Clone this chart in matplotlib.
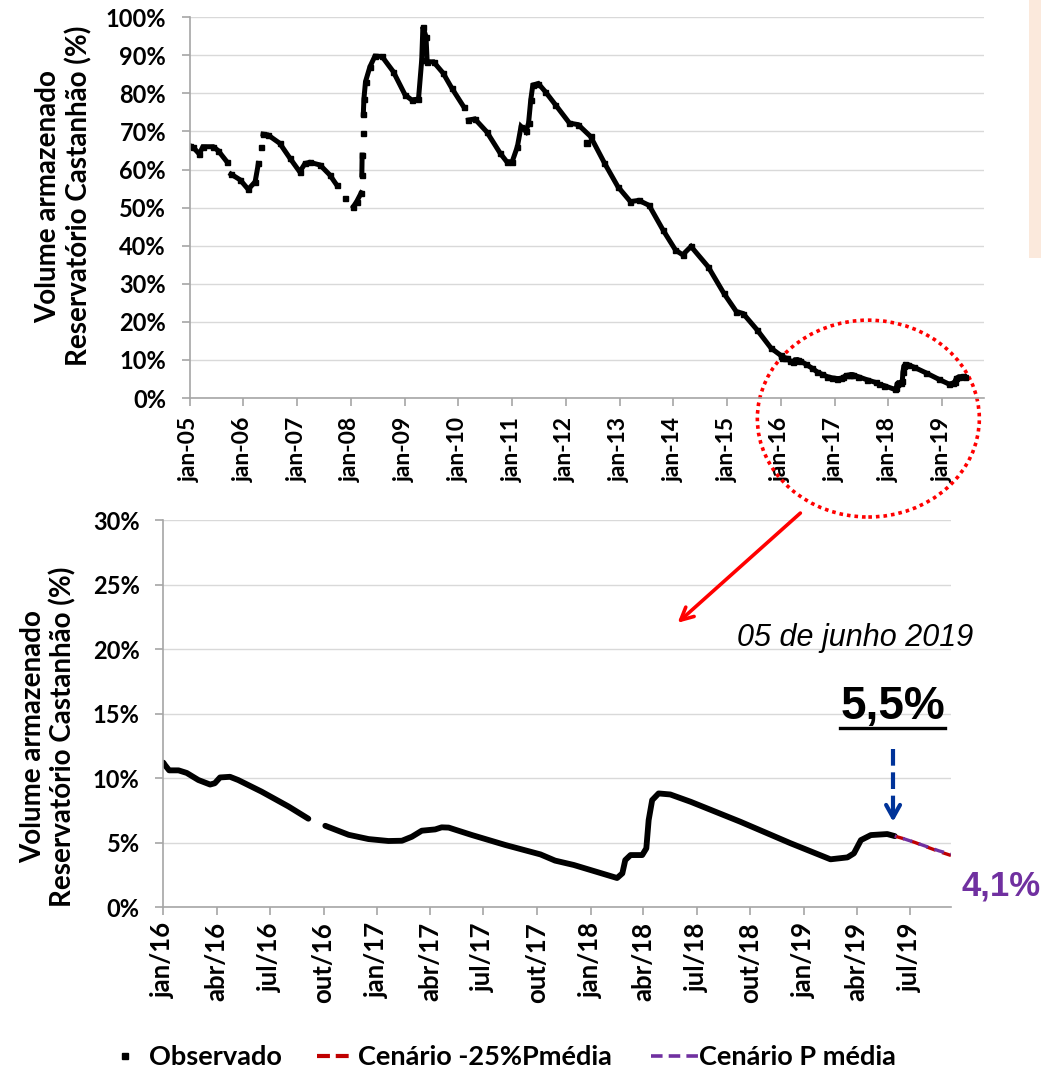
import numpy as np
import pandas as pd
import matplotlib
matplotlib.use('Agg')
import matplotlib.pyplot as plt
import matplotlib.dates as mdates
from matplotlib.patches import Ellipse, Rectangle
from matplotlib.lines import Line2D
from matplotlib.ticker import FixedLocator, FuncFormatter

plt.rcParams['font.family'] = ['Lato', 'DejaVu Sans']
plt.rcParams['font.weight'] = 'bold'

# ---------------------------------------------------------------------
# Volume armazenado observado, 2005-2015 (NaN = sem registro)
# ---------------------------------------------------------------------
obs_dates_a = ['2005-01-01', '2005-01-26', '2005-03-07', '2005-04-01', '2005-06-10',
               '2005-07-13', '2005-09-10', '2005-09-25', '2005-10-09', '2005-12-10',
               '2006-02-03', '2006-03-22', '2006-04-13', '2006-04-22', '2006-04-30',
               '2006-05-08', '2006-05-15', '2006-06-17', '2006-09-05', '2006-11-13',
               '2007-01-19', '2007-02-24', '2007-03-29', '2007-06-06', '2007-08-11',
               '2007-09-28', '2007-10-20', '2007-11-22', '2007-12-20', '2008-01-19',
               '2008-02-10', '2008-03-12', '2008-03-14', '2008-03-16', '2008-03-18',
               '2008-03-19', '2008-03-21', '2008-03-23', '2008-03-26', '2008-03-30',
               '2008-04-10', '2008-05-10', '2008-06-13', '2008-07-31', '2008-10-16',
               '2009-01-04', '2009-02-17', '2009-04-05', '2009-04-27', '2009-05-05',
               '2009-05-26', '2009-06-03', '2009-07-16', '2009-09-20', '2009-11-17',
               '2010-02-06', '2010-02-20', '2010-03-10', '2010-04-23', '2010-07-13',
               '2010-10-12', '2010-11-25', '2011-01-01', '2011-02-06', '2011-03-03',
               '2011-04-05', '2011-04-23', '2011-05-08', '2011-05-22', '2011-06-28',
               '2011-08-14', '2011-10-23', '2012-01-26', '2012-03-25', '2012-06-17',
               '2012-09-20', '2012-12-20', '2013-03-15', '2013-05-12', '2013-07-20',
               '2013-10-23', '2014-01-15', '2014-03-05', '2014-05-01', '2014-08-25',
               '2014-12-10', '2015-03-05', '2015-04-20', '2015-07-24', '2015-10-27']
obs_vals_a = [66.3, 65.8, 64.1, 66.0, 66.0,
              65.0, 62.1, np.nan, 58.8, 57.3,
              54.8, 56.8, 61.6, np.nan, 66.0,
              np.nan, 69.3, 69.1, 66.9, 63.0,
              59.4, 61.6, 61.9, 61.2, 58.6,
              55.9, np.nan, 52.5, np.nan, 50.3,
              51.6, 53.9, np.nan, 58.6, 63.8,
              np.nan, 69.5, np.nan, 74.5, 78.5,
              83.1, 87.0, 89.8, 89.7, 85.7,
              79.6, 78.3, 78.5, 88.8, 97.5,
              94.9, 88.3, 88.3, 85.3, 81.4,
              76.5, np.nan, 73.0, 73.3, 69.9,
              64.3, 62.1, 62.0, 66.0, 71.3,
              70.0, 72.2, 78.3, 82.2, 82.6,
              80.5, 77.0, 72.2, 71.8, 68.7,
              61.7, 55.5, 51.6, 51.9, 50.6,
              44.1, 38.9, 37.6, 39.8, 34.5,
              27.5, 22.7, 22.2, 17.9, 13.1]

# leitura isolada fora da curva
stray_dates = ['2012-05-27']
stray_vals = [66.9]

# ---------------------------------------------------------------------
# Volume armazenado observado, 2016-2019
# ---------------------------------------------------------------------
obs_dates_b = ['2016-01-01', '2016-01-04', '2016-01-11', '2016-01-27', '2016-02-10',
               '2016-03-01', '2016-03-21', '2016-03-29', '2016-04-07', '2016-04-24',
               '2016-05-08', '2016-06-17', '2016-08-02', '2016-09-05', '2016-09-20',
               '2016-10-04', '2016-11-13', '2016-12-17', '2017-01-20', '2017-02-12',
               '2017-03-01', '2017-03-18', '2017-04-10', '2017-04-21', '2017-05-03',
               '2017-06-12', '2017-08-08', '2017-10-07', '2017-11-01', '2017-12-03',
               '2018-02-15', '2018-02-24', '2018-03-01', '2018-03-10', '2018-03-30',
               '2018-04-06', '2018-04-10', '2018-04-16', '2018-04-27', '2018-05-17',
               '2018-06-21', '2018-09-14', '2018-12-09', '2019-02-15', '2019-03-16',
               '2019-03-27', '2019-04-08', '2019-04-25', '2019-05-23', '2019-06-05']
obs_vals_b = [11.2, 11.0, 10.6, 10.6, 10.4,
              9.85, 9.5, 9.6, 10.05, 10.1,
              9.85, 8.95, 7.8, 6.85, np.nan,
              6.3, 5.6, 5.27, 5.12, 5.14,
              5.45, 5.92, 6.02, 6.18, 6.16,
              5.58, 4.81, 4.08, 3.6, 3.26,
              2.25, 2.61, 3.64, 4.03, 4.03,
              4.55, 6.74, 8.29, 8.81, 8.73,
              8.16, 6.61, 4.94, 3.70, 3.85,
              4.16, 5.19, 5.58, 5.66, 5.5]

# ---------------------------------------------------------------------
# Cenários a partir de 05/06/2019
# ---------------------------------------------------------------------
cen_dates = ['2019-06-05', '2019-06-20', '2019-07-10', '2019-08-01', '2019-08-20', '2019-09-09']
cen_p25 = [5.5, 5.3, 5.0, 4.62, 4.3, 4.0]
cen_pmed = [5.5, 5.3, 5.0, 4.65, 4.35, 4.1]

meses = ['jan', 'fev', 'mar', 'abr', 'mai', 'jun',
         'jul', 'ago', 'set', 'out', 'nov', 'dez']
top_ticks = pd.date_range('2005-01-01', '2019-01-01', freq='YS')
bot_ticks = pd.date_range('2016-01-01', '2019-07-01', freq='QS')

d_a = pd.to_datetime(obs_dates_a)
d_b = pd.to_datetime(obs_dates_b)
d_all = d_a.append(d_b)
v_all = list(obs_vals_a) + list(obs_vals_b)
d_cen = pd.to_datetime(cen_dates)

grid_c = '#D9D9D9'
axis_c = '#A6A6A6'


def style_axes(ax, ylim, ystep, xpad, xsize):
    ax.set_ylim(*ylim)
    ax.set_yticks(np.arange(ylim[0], ylim[1] + 0.1, ystep))
    ax.yaxis.set_major_formatter(FuncFormatter(lambda v, p: f'{v:.0f}%'))
    ax.grid(axis='y', color=grid_c, lw=1.0)
    ax.set_axisbelow(True)
    for s in ['top', 'right']:
        ax.spines[s].set_visible(False)
    for s in ['left', 'bottom']:
        ax.spines[s].set_color(axis_c)
        ax.spines[s].set_linewidth(1.2)
    ax.tick_params(axis='y', direction='out', length=6, width=1.2, color=axis_c,
                   labelsize=17, pad=11)
    ax.tick_params(axis='x', direction='out', length=6, width=1.2, color=axis_c,
                   labelsize=xsize, pad=xpad, labelrotation=90)
    ax.set_ylabel('Volume armazenado\nReservatório Castanhão (%)', fontsize=20,
                  fontweight='bold', linespacing=1.15)


fig = plt.figure(figsize=(10.41, 10.72), dpi=100)

# =====================================================================
# Série completa 2005-2019
# =====================================================================
ax1 = fig.add_axes([0.1822, 0.6287, 0.7629, 0.3552])
ax1.plot(d_all, v_all, color='black', lw=3.6, marker='s', ms=3.6,
         solid_joinstyle='miter')
ax1.plot(pd.to_datetime(stray_dates), stray_vals, ls='none', marker='s',
         ms=4.5, color='black')
ax1.set_xlim(pd.Timestamp('2005-01-01'), pd.Timestamp('2019-10-12'))
ax1.xaxis.set_major_locator(FixedLocator(mdates.date2num(top_ticks)))
ax1.set_xticklabels([f'{meses[t.month - 1]}-{t.year % 100:02d}' for t in top_ticks])
style_axes(ax1, (0, 100), 10, 7.5, 16.5)
ax1.yaxis.set_label_coords(-0.123, 0.53)

# destaque do período 2016-2019
ax1.add_patch(Ellipse((mdates.date2num(pd.Timestamp('2017-08-18')), -5.4),
                      width=4.13 * 365.25, height=51.7, fill=False,
                      ec='#FF0000', lw=2.6, ls=(0, (1, 1.1)), clip_on=False))

# =====================================================================
# Detalhe 2016-2019 com cenários
# =====================================================================
ax2 = fig.add_axes([0.1569, 0.1539, 0.7566, 0.3608])
ax2.plot(d_b, obs_vals_b, color='black', lw=4.2, solid_capstyle='round',
         solid_joinstyle='round')
ax2.plot(d_cen, cen_p25, color='#C00000', lw=2.4, ls=(0, (3, 2)))
ax2.plot(d_cen, cen_pmed, color='#7030A0', lw=2.4, ls=(2.5, (3, 2)))
ax2.set_xlim(pd.Timestamp('2016-01-01'), pd.Timestamp('2019-09-09'))
ax2.xaxis.set_major_locator(FixedLocator(mdates.date2num(bot_ticks)))
ax2.set_xticklabels([f'{meses[t.month - 1]}/{t.year % 100:02d}' for t in bot_ticks])
style_axes(ax2, (0, 30), 5, 5, 18.5)
ax2.yaxis.set_label_coords(-0.110, 0.44)

# seta ligando o destaque ao detalhe
ax2.annotate('', xy=(pd.Timestamp('2018-05-26'), 21.9),
             xytext=(pd.Timestamp('2018-12-29'), 30.7),
             arrowprops=dict(arrowstyle='->, head_length=0.9, head_width=0.45',
                             color='#FF0000', lw=2.6),
             annotation_clip=False)

ax2.text(pd.Timestamp('2019-03-29'), 20.9, '05 de junho 2019', ha='center', va='center',
         fontsize=22, style='italic', fontweight='normal',
         family=['Liberation Sans', 'DejaVu Sans'])

t55 = ax2.text(pd.Timestamp('2019-06-01'), 15.5, '5,5%', ha='center', va='center',
               fontsize=33, fontweight='bold', family=['Liberation Sans', 'DejaVu Sans'])

# seta tracejada até o último valor observado
d_arrow = pd.Timestamp('2019-06-02')
ax2.plot([d_arrow, d_arrow], [12.25, 7.6], color='#003399', lw=3.0, ls=(0, (4, 1.6)),
         solid_capstyle='butt')
ax2.annotate('', xy=(d_arrow, 6.4), xytext=(d_arrow, 7.8),
             arrowprops=dict(arrowstyle='->, head_length=0.9, head_width=0.5',
                             color='#003399', lw=3.0),
             annotation_clip=False)

ax2.text(pd.Timestamp('2019-12-03'), 1.6, '4,1%', ha='center', va='center',
         fontsize=25, fontweight='bold', color='#7030A0', clip_on=False,
         family=['Liberation Sans', 'DejaVu Sans'])

# legenda: uma entrada por bloco, alinhadas na base da figura
leg_items = [
    (Line2D([], [], ls='none', marker='s', ms=4.5, color='black'),
     'Observado', 111 / 1041, 1.0, 0.42),
    (Line2D([], [], color='#C00000', lw=3, ls=(0, (3.1, 1.4))),
     'Cenário -25%Pmédia', 317 / 1041, 1.25, 0.26),
    (Line2D([], [], color='#7030A0', lw=2.6, ls=(0, (3.2, 1.7))),
     'Cenário P média', 651 / 1041, 1.78, 0.0),
]
for h, lab, x0, hl, tp in leg_items:
    fig.legend([h], [lab], loc='center left', bbox_to_anchor=(x0, 0.014),
               frameon=False, fontsize=19.5, handlelength=hl, handletextpad=tp,
               borderpad=0, borderaxespad=0)

# faixa lateral
fig.add_artist(Rectangle((0.9885, 1 - 258 / 1072), 0.0115, 258 / 1072,
                         transform=fig.transFigure, color='#FBE9DC', lw=0))

# sublinhado do 5,5%
fig.canvas.draw()
bb = t55.get_window_extent().transformed(fig.transFigure.inverted())
fig.add_artist(Line2D([bb.x0, bb.x1], [bb.y0 + 0.001, bb.y0 + 0.001],
                      transform=fig.transFigure, color='black', lw=2.4))

fig.savefig('out.png', dpi=100)
